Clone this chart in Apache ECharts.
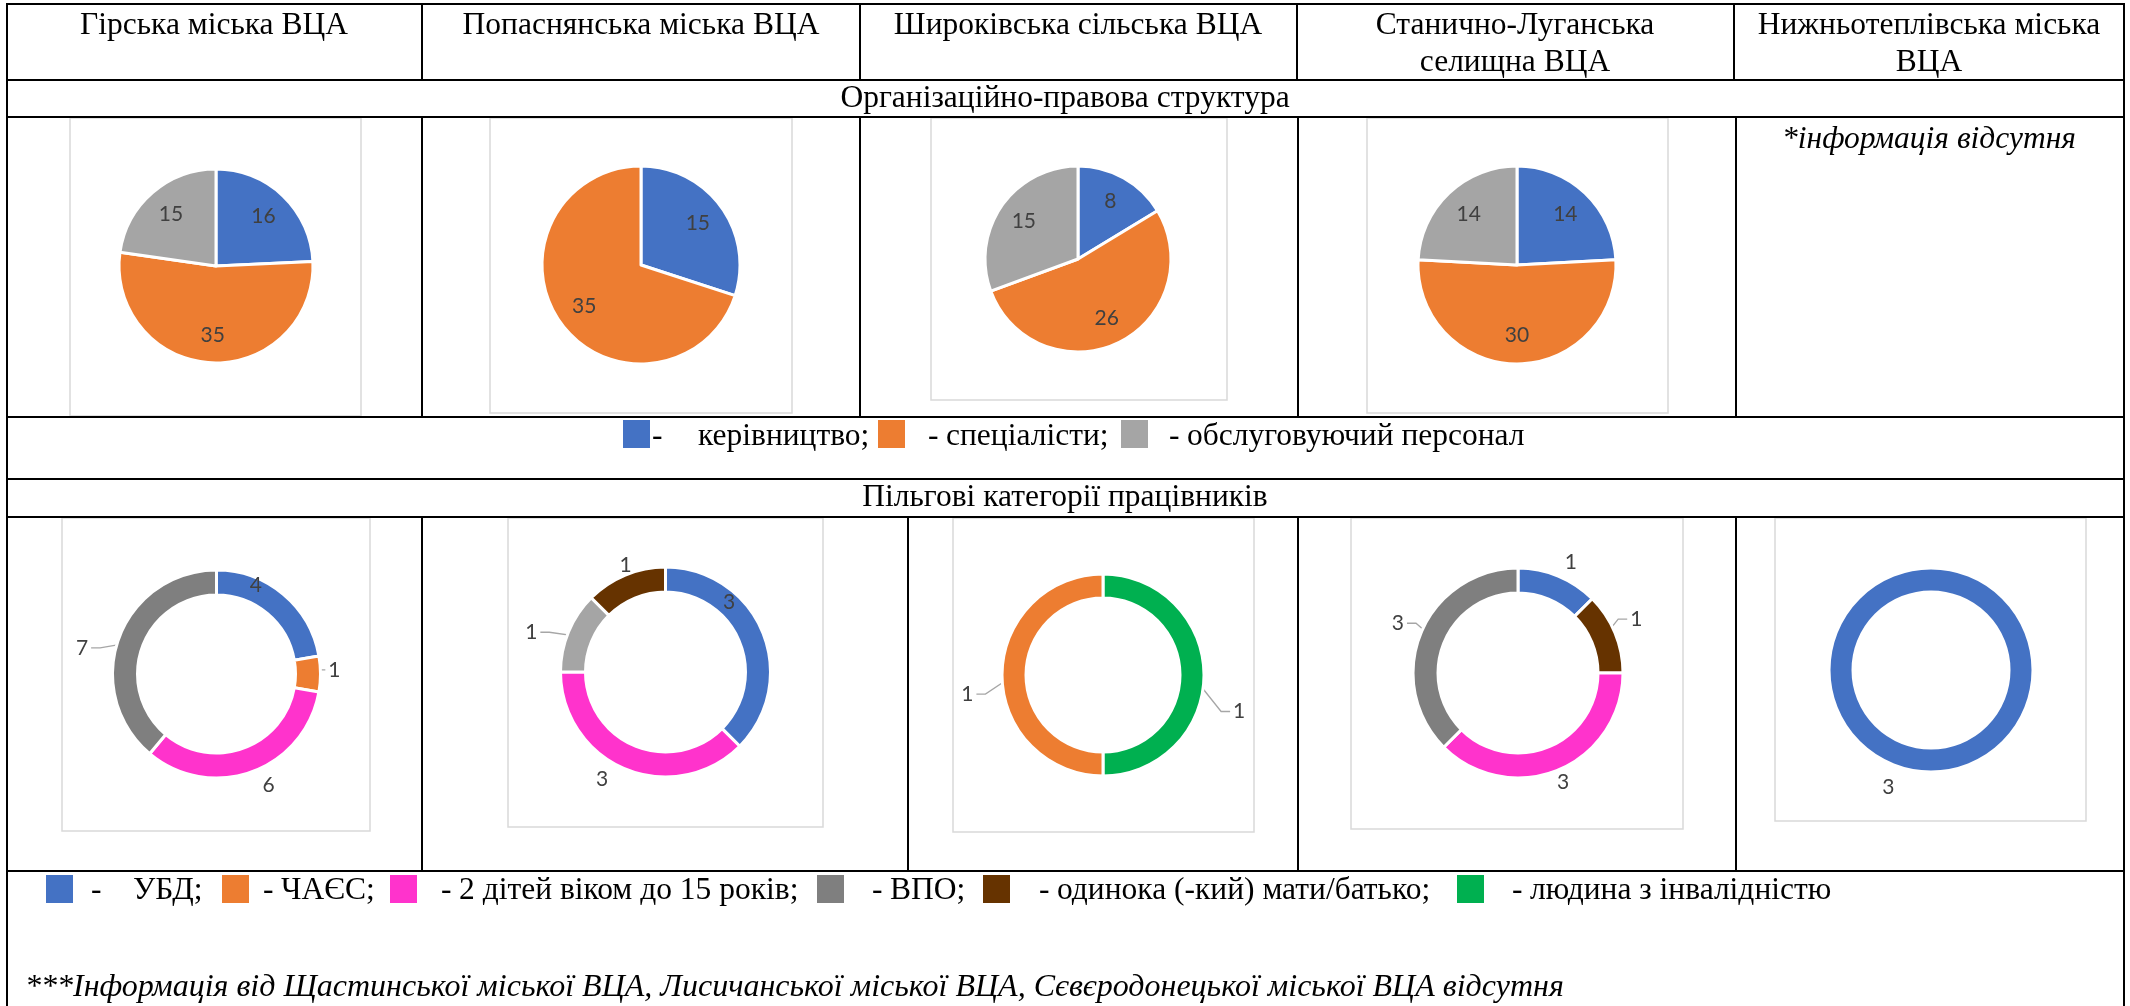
<!DOCTYPE html>
<html><head><meta charset="utf-8">
<script src="https://cdn.jsdelivr.net/npm/echarts@6/dist/echarts.min.js"></script>
<style>html,body{margin:0;padding:0;background:#fff;}#c{width:2130px;height:1006px;}</style>
</head><body><div id="c"></div>
<script>
// ---------------- DATA ----------------
const orgUnits = ['Гірська міська ВЦА', 'Попаснянська міська ВЦА', 'Широківська сільська ВЦА', 'Станично-Луганська\nселищна ВЦА', 'Нижньотеплівська міська\nВЦА'];
const sectionTitles = ['Організаційно-правова структура', 'Пільгові категорії працівників'];
const staffCategories = ['керівництво', 'спеціалісти', 'обслуговуючий персонал'];
const staffGirska = [16, 35, 15];
const staffPopasna = [15, 35, null];
const staffShyrokivka = [8, 26, 15];
const staffStanychno = [14, 30, 14];
const staffMissingNote = '*інформація відсутня';
const benefitCategories = ['УБД', 'ЧАЄС', '2 дітей віком до 15 років', 'ВПО', 'одинока (-кий) мати/батько', 'людина з інвалідністю'];
const benefitGirskaCats = ['УБД', 'ЧАЄС', '2 дітей віком до 15 років', 'ВПО'];
const benefitGirskaVals = [4, 1, 6, 7];
const benefitPopasnaCats = ['УБД', '2 дітей віком до 15 років', 'ВПО', 'одинока (-кий) мати/батько'];
const benefitPopasnaVals = [3, 3, 1, 1];
const benefitShyrokivkaCats = ['людина з інвалідністю', 'ЧАЄС'];
const benefitShyrokivkaVals = [1, 1];
const benefitStanychnoCats = ['УБД', 'одинока (-кий) мати/батько', '2 дітей віком до 15 років', 'ВПО'];
const benefitStanychnoVals = [1, 1, 3, 3];
const benefitNyzhnoCats = ['УБД'];
const benefitNyzhnoVals = [3];
const footnote = '***Інформація від Щастинської міської ВЦА, Лисичанської міської ВЦА, Сєвєродонецької міської ВЦА відсутня';

// ---------------- STYLE / LAYOUT ----------------
const colorOf = {
  'керівництво': '#4472C4', 'спеціалісти': '#ED7D31', 'обслуговуючий персонал': '#A5A5A5',
  'УБД': '#4472C4', 'ЧАЄС': '#ED7D31', '2 дітей віком до 15 років': '#FF33CC', 'ВПО': '#7F7F7F',
  'одинока (-кий) мати/батько': '#663300', 'людина з інвалідністю': '#00B050'
};
const SERIF = 'Liberation Serif';
const FS = 31.5;
const LBL = 'Lato';
const TL = 7, TR = 2124;
const hLines = [4, 80, 117, 417, 479, 517, 871];
const vSegs = [
  { y1: 4, y2: 80, xs: [422, 860, 1297, 1734] },
  { y1: 117, y2: 417, xs: [422, 860, 1298, 1736] },
  { y1: 517, y2: 871, xs: [422, 908, 1298, 1736] }
];
const colCenters = [214, 641, 1078, 1515, 1929];
const pieBoxes = [[70, 118, 361, 416], [490, 118, 792, 413], [931, 118, 1227, 400], [1367, 118, 1668, 413]];
const donutBoxes = [[62, 518, 370, 831], [508, 518, 823, 827], [953, 518, 1254, 832], [1351, 518, 1683, 829], [1775, 518, 2086, 821]];

const pieLayouts = [
  { cx: 216, cy: 266, r: 97 },
  { cx: 641, cy: 265, r: 99 },
  { cx: 1078, cy: 259, r: 93 },
  { cx: 1517, cy: 265, r: 99 }
];
const donutLayouts = [
  { cx: 216.5, cy: 674, r: 104, r0: 79, specs: [[97, -16, 0], [118, -2, 1], [123, -5, 0], [137, -9, 1]] },
  { cx: 665.5, cy: 672, r: 105, r0: 80, specs: [[94, -25, 0], [125, 8, 0], [140, -6, 1], [114, 2, 0]], override: { 'ВПО': '#A5A5A5' } },
  { cx: 1103, cy: 675, r: 101, r0: 77, specs: [[141, 15, 1], [137, -8, 1]] },
  { cx: 1518, cy: 673, r: 105, r0: 80, specs: [[123, 3, 0], [130, -2, 1], [118, 0, 0], [130, 0, 1]] },
  { cx: 1931, cy: 670, r: 102, r0: 78, specs: [[125, 20, 0]] }
];

const legend1 = [ // swatch x, dash x, word x
  [623, 652, 698], [878, 928, 946], [1121, 1169, 1187]
];
const legend2 = [
  [46, 91, 133], [222, 263, 281], [390, 441, 459], [817, 872, 890], [983, 1039, 1057], [1457, 1512, 1530]
];

// ---------------- BUILD ----------------
function midAngles(vals) {
  const total = vals.reduce((a, b) => a + b, 0);
  let acc = 0;
  return vals.map(v => { const m = (acc + v / 2) / total * 360; acc += v; return m; });
}
function makeLayout(cx, cy, vals, specs, rMid) {
  const mids = midAngles(vals);
  return function (p) {
    const i = p.dataIndex;
    const s = specs[i];
    const a = (mids[i] + s[1]) * Math.PI / 180;
    const x = cx + s[0] * Math.sin(a), y = cy - s[0] * Math.cos(a);
    const res = { x: x, y: y, align: 'center', verticalAlign: 'middle' };
    if (s[2]) {
      const am = mids[i] * Math.PI / 180;
      const sx = cx + rMid * Math.sin(am), sy = cy - rMid * Math.cos(am);
      const side = x < sx ? -1 : 1;
      const hw = p.labelRect.width / 2;
      const ex = x - side * (hw + 3);
      res.labelLinePoints = [[sx, sy], [ex - side * 9, y], [ex, y]];
    }
    return res;
  };
}

const series = [];
const staffSets = [staffGirska, staffPopasna, staffShyrokivka, staffStanychno];
staffSets.forEach((vals, k) => {
  const L = pieLayouts[k];
  const cats = [], vs = [];
  vals.forEach((v, i) => { if (v != null) { cats.push(staffCategories[i]); vs.push(v); } });
  const specs = vs.map(() => [L.r * 0.71, 0, 0]);
  series.push({
    type: 'pie', center: [L.cx, L.cy], radius: [0, L.r], startAngle: 90, clockwise: true,
    avoidLabelOverlap: false, silent: true, animation: false,
    itemStyle: { borderColor: '#fff', borderWidth: 3 },
    label: { show: true, position: 'inside', formatter: '{c}', color: '#404040', fontFamily: LBL, fontSize: 21 },
    labelLine: { show: false },
    labelLayout: makeLayout(L.cx, L.cy, vs, specs, 0),
    data: vs.map((v, i) => ({ name: cats[i], value: v, itemStyle: { color: colorOf[cats[i]] } }))
  });
});

const benefitSets = [
  [benefitGirskaCats, benefitGirskaVals], [benefitPopasnaCats, benefitPopasnaVals],
  [benefitShyrokivkaCats, benefitShyrokivkaVals], [benefitStanychnoCats, benefitStanychnoVals],
  [benefitNyzhnoCats, benefitNyzhnoVals]
];
benefitSets.forEach(([cats, vals], k) => {
  const L = donutLayouts[k];
  const ov = L.override || {};
  series.push({
    type: 'pie', center: [L.cx, L.cy], radius: [L.r0, L.r], startAngle: 90, clockwise: true,
    avoidLabelOverlap: false, silent: true, animation: false,
    itemStyle: { borderColor: '#fff', borderWidth: 3 },
    label: { show: true, position: 'outside', formatter: '{c}', color: '#404040', fontFamily: LBL, fontSize: 21 },
    labelLine: { show: true, length: 5, length2: 5, smooth: false, lineStyle: { color: '#A6A6A6', width: 1.3 } },
    labelLayout: makeLayout(L.cx, L.cy, vals, L.specs, (L.r + L.r0) / 2),
    data: vals.map((v, i) => ({
      name: cats[i], value: v,
      itemStyle: { color: ov[cats[i]] || colorOf[cats[i]] },
      labelLine: { show: !!L.specs[i][2] }
    }))
  });
});

const g = [];
function line(x1, y1, x2, y2, w, c) {
  g.push({ type: 'line', silent: true, z: 10, shape: { x1: x1, y1: y1, x2: x2, y2: y2 }, style: { stroke: c || '#000', lineWidth: w || 2 } });
}
function text(t, x, y, opt) {
  opt = opt || {};
  const st = {
    text: t, fill: '#000', fontFamily: SERIF, fontSize: opt.size || FS,
    align: opt.align || 'left', verticalAlign: opt.va || 'middle', lineHeight: opt.lh || 37
  };
  if (opt.italic) st.fontStyle = 'italic';
  g.push({ type: 'text', silent: true, z: 10, x: x, y: y, style: st });
}
function box(b) {
  g.push({ type: 'rect', silent: true, z: 1, shape: { x: b[0], y: b[1], width: b[2] - b[0], height: b[3] - b[1] }, style: { fill: '#fff', stroke: '#D9D9D9', lineWidth: 1.5 } });
}
function swatch(x, y, c) {
  g.push({ type: 'rect', silent: true, z: 10, shape: { x: x, y: y, width: 27, height: 28 }, style: { fill: c } });
}

pieBoxes.forEach(box);
donutBoxes.forEach(box);
hLines.forEach(y => line(TL, y, TR, y));
line(TL, 3, TL, 1006); line(TR, 3, TR, 1006);
vSegs.forEach(s => s.xs.forEach(x => line(x, s.y1, x, s.y2)));

orgUnits.forEach((t, i) => text(t, colCenters[i], 7, { align: 'center', va: 'top' }));
text(sectionTitles[0], 1065, 99, { align: 'center' });
text(sectionTitles[1], 1065, 498, { align: 'center' });
text(staffMissingNote, 1929, 140, { align: 'center', italic: true });

staffCategories.forEach((c, i) => {
  const p = legend1[i];
  swatch(p[0], 420, colorOf[c]);
  text('-', p[1], 437);
  text(c + (i < staffCategories.length - 1 ? ';' : ''), p[2], 437);
});
benefitCategories.forEach((c, i) => {
  const p = legend2[i];
  swatch(p[0], 875, colorOf[c]);
  text('-', p[1], 891);
  text(c + (i < benefitCategories.length - 1 ? ';' : ''), p[2], 891);
});
text(footnote, 25, 988, { italic: true, size: 32 });

const chart = echarts.init(document.getElementById('c'), null, { renderer: 'canvas' });
chart.setOption({ backgroundColor: '#fff', animation: false, series: series, graphic: { elements: g } });
</script>
</body></html>
